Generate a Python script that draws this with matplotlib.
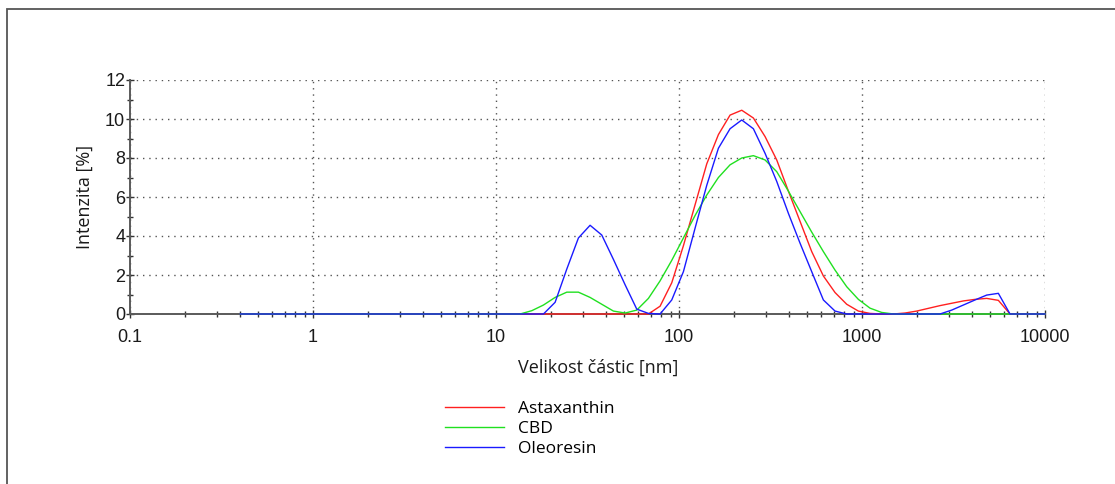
import matplotlib
matplotlib.use('Agg')
import matplotlib.pyplot as plt
import matplotlib.ticker as mticker
from matplotlib.patches import Rectangle

# size bins [nm] (instrument bins, log spaced)
sizes = [0.4, 0.4632, 0.5365, 0.6213, 0.7195, 0.8332, 0.9649, 1.117, 1.294, 1.499,
         1.736, 2.010, 2.328, 2.696, 3.122, 3.615, 4.187, 4.849, 5.615, 6.503,
         7.531, 8.721, 10.10, 11.70, 13.54, 15.69, 18.17, 21.04, 24.36, 28.21,
         32.67, 37.84, 43.82, 50.75, 58.77, 68.06, 78.82, 91.28, 105.7, 122.4,
         141.8, 164.2, 190.1, 220.2, 255.0, 295.3, 342.0, 396.1, 458.7, 531.2,
         615.1, 712.4, 825.0, 955.4, 1106, 1281, 1484, 1718, 1990, 2305,
         2669, 3091, 3580, 4145, 4801, 5560, 6439, 7456, 8635, 10000]

astaxanthin = [0, 0, 0, 0, 0, 0, 0, 0, 0, 0,
               0, 0, 0, 0, 0, 0, 0, 0, 0, 0,
               0, 0, 0, 0, 0, 0, 0, 0, 0, 0,
               0, 0, 0, 0, 0, 0, 0.4, 1.6, 3.5, 5.6,
               7.7, 9.2, 10.2, 10.45, 10.05, 9.1, 7.9, 6.3, 4.75, 3.2,
               1.95, 1.1, 0.5, 0.15, 0.03, 0, 0, 0.05, 0.15, 0.29,
               0.43, 0.55, 0.67, 0.75, 0.8, 0.7, 0, 0, 0, 0]

cbd = [0, 0, 0, 0, 0, 0, 0, 0, 0, 0,
       0, 0, 0, 0, 0, 0, 0, 0, 0, 0,
       0, 0, 0, 0, 0, 0.17, 0.46, 0.85, 1.12, 1.12,
       0.85, 0.5, 0.15, 0.05, 0.2, 0.8, 1.7, 2.75, 3.9, 5.05,
       6.1, 7.0, 7.65, 8.0, 8.12, 7.9, 7.3, 6.3, 5.25, 4.2,
       3.2, 2.25, 1.4, 0.75, 0.3, 0.08, 0, 0, 0, 0,
       0, 0, 0, 0, 0, 0, 0, 0, 0, 0]

oleoresin = [0, 0, 0, 0, 0, 0, 0, 0, 0, 0,
             0, 0, 0, 0, 0, 0, 0, 0, 0, 0,
             0, 0, 0, 0, 0, 0, 0, 0.6, 2.3, 3.9,
             4.55, 4.05, 2.8, 1.5, 0.25, 0.03, 0, 0.72, 2.17, 4.4,
             6.6, 8.5, 9.5, 9.95, 9.5, 8.24, 6.8, 5.16, 3.63, 2.17,
             0.72, 0.15, 0, 0, 0, 0, 0, 0, 0, 0,
             0, 0.2, 0.46, 0.72, 0.97, 1.06, 0, 0, 0, 0]

series = [('Astaxanthin', astaxanthin, '#ff2020'),
          ('CBD', cbd, '#20e020'),
          ('Oleoresin', oleoresin, '#1a1aff')]

W, H = 1115, 484
fig = plt.figure(figsize=(W / 100, H / 100), dpi=100)
ax = fig.add_axes([130 / W, 1 - 314 / H, 915 / W, 234 / H])

for name, vals, col in series:
    # lines drawn over the axis so the zero stretches stay visible
    ax.plot(sizes, vals, color=col, lw=1.0, label=name, zorder=3, clip_on=False)

ax.set_xscale('log')
ax.set_xlim(0.1, 10000)
ax.set_ylim(0, 12)
ax.set_yticks(range(0, 13, 2))
ax.yaxis.set_minor_locator(mticker.MultipleLocator(1))
ax.xaxis.set_major_locator(mticker.LogLocator(base=10, numticks=10))
ax.xaxis.set_minor_locator(mticker.LogLocator(base=10, subs=range(2, 10), numticks=10))
ax.xaxis.set_major_formatter(mticker.FuncFormatter(lambda v, p: '%g' % v))
ax.xaxis.set_minor_formatter(mticker.NullFormatter())

for s in ['top', 'right']:
    ax.spines[s].set_visible(False)
for s in ['left', 'bottom']:
    ax.spines[s].set_color('#5a5a5a')
    ax.spines[s].set_linewidth(1.4)

ax.grid(True, which='major', color='#555555', linestyle=(0, (1, 3.5)), lw=1.0)
ax.tick_params(which='both', direction='inout', color='#333333', width=1.0)
ax.tick_params(which='major', length=6, labelsize=13, labelcolor='#1a1a1a')
ax.tick_params(which='minor', length=4)
ax.tick_params(axis='x', which='major', pad=8)
ax.tick_params(axis='y', which='major', pad=0.5)
for lab in ax.get_xticklabels() + ax.get_yticklabels():
    lab.set_family('Liberation Sans')

ax.set_xlabel('Velikost částic [nm]', family='Open Sans', fontsize=13, color='#1a1a1a')
ax.set_ylabel('Intenzita [%]', family='Open Sans', fontsize=13, color='#1a1a1a')
ax.xaxis.set_label_coords((598 - 130) / 915, (314 - 368) / 234)
ax.xaxis.label.set_va('center')
ax.yaxis.set_label_coords((85 - 130) / 915, 0.5)
ax.yaxis.label.set_va('center')

fig.legend(loc='upper left', bbox_to_anchor=(436 / W, 1 - 392 / H), frameon=False,
           prop={'family': 'Open Sans', 'size': 12.5}, handlelength=3.4,
           handletextpad=0.85, labelspacing=0.22, borderpad=0)

# outer frame of the report panel
fig.patches.append(Rectangle((7 / W, -0.1), 1.5, 1.1 - 9 / H, transform=fig.transFigure,
                             fill=False, edgecolor='#555555', lw=1.3))

fig.savefig('out.png', dpi=100)
